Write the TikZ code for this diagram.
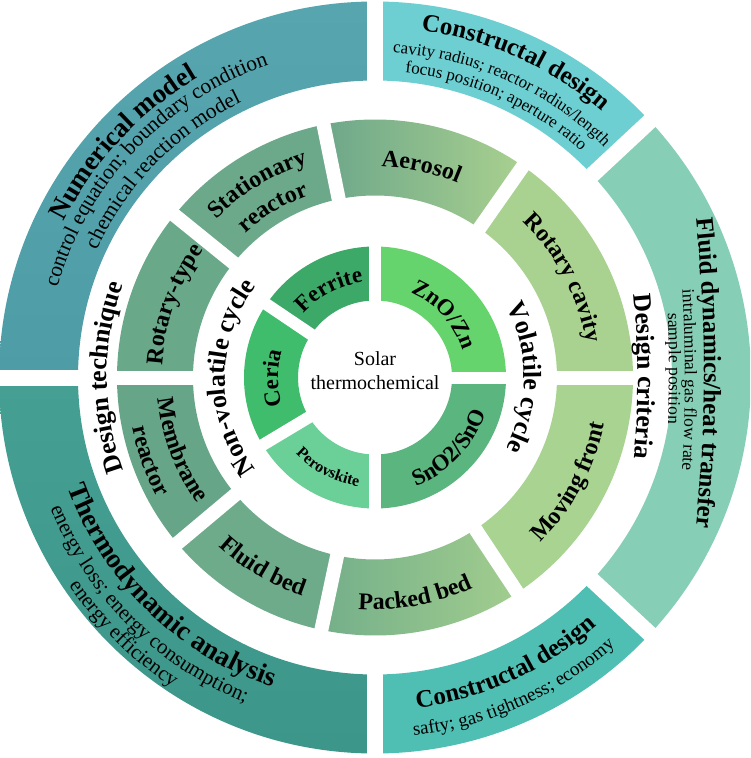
\documentclass[tikz,border=0pt]{standalone}
\usepackage{fontspec}
\setmainfont{Liberation Serif}
\usetikzlibrary{decorations.text}
\newcommand{\ringsec}[5]{\path[#5] (#3:#1pt) arc[start angle=#3,end angle=#4,radius=#1pt] -- (#4:#2pt) arc[start angle=#4,end angle=#3,radius=#2pt] -- cycle;}
\newcommand{\gapline}[4]{\draw[white,line width=#4pt] (#1:#2pt) -- (#1:#3pt);}
\newcommand{\cwtext}[4]{\pgfmathsetmacro\tsa{#2+80}\pgfmathsetmacro\tea{#2-80}%
 \path[decorate,decoration={text along path,text align=center,text={|#3|#4}}] (\tsa:#1pt) arc[start angle=\tsa,end angle=\tea,radius=#1pt];}
\newcommand{\ccwtext}[4]{\pgfmathsetmacro\tsa{#2-80}\pgfmathsetmacro\tea{#2+80}%
 \path[decorate,decoration={text along path,text align=center,text={|#3|#4}}] (\tsa:#1pt) arc[start angle=\tsa,end angle=\tea,radius=#1pt];}
% flatter arc with its own centre: cx, cy, R, font, text
\newcommand{\cwflat}[5]{%
 \path[shift={(#1,#2)},decorate,decoration={text along path,text align=center,text={|#4|#5}}] (20:#3pt) arc[start angle=20,end angle=-20,radius=#3pt];}
\newcommand{\fTa}{\fontsize{27}{32}\selectfont\bfseries}
\newcommand{\fTt}{\fontsize{27.5}{33}\selectfont\bfseries}
\newcommand{\fTb}{\fontsize{25}{30}\selectfont\bfseries}
\newcommand{\fW}{\fontsize{26}{31}\selectfont\bfseries}
\newcommand{\fM}{\fontsize{24}{29}\selectfont\bfseries}
\newcommand{\fI}{\fontsize{23}{28}\selectfont\bfseries}
\newcommand{\fP}{\fontsize{16}{19}\selectfont\bfseries}
\newcommand{\fSa}{\fontsize{21.5}{25}\selectfont}
\newcommand{\fSb}{\fontsize{17}{20}\selectfont}
\newcommand{\fSc}{\fontsize{19}{22}\selectfont}
\newcommand{\fSd}{\fontsize{21}{25}\selectfont}
\newcommand{\fSe}{\fontsize{17.5}{21}\selectfont}
\definecolor{cNum}{HTML}{57A6AF}
\definecolor{cNumB}{HTML}{4E9CA6}
\definecolor{cConT}{HTML}{6DCFD1}
\definecolor{cFlu}{HTML}{86CEB5}
\definecolor{cConB}{HTML}{4FBFB3}
\definecolor{cThe}{HTML}{45A093}
\definecolor{cTheB}{HTML}{3C978A}
\definecolor{cAerL}{HTML}{6DA78A}
\definecolor{cAerR}{HTML}{A9D08F}
\definecolor{cSta}{HTML}{6CA98A}
\definecolor{cRty}{HTML}{69A889}
\definecolor{cMem}{HTML}{67A588}
\definecolor{cFbd}{HTML}{6EAB8A}
\definecolor{cPbL}{HTML}{74AF8A}
\definecolor{cPbR}{HTML}{A2CD8E}
\definecolor{cMov}{HTML}{A8D391}
\definecolor{cRca}{HTML}{A9D18F}
\definecolor{cFer}{HTML}{3CA968}
\definecolor{cCer}{HTML}{3FBC6C}
\definecolor{cPer}{HTML}{6BCF98}
\definecolor{cZn}{HTML}{66D46C}
\definecolor{cSn}{HTML}{5AB57E}
\begin{document}
\begin{tikzpicture}[x=1pt,y=1pt]
\useasboundingbox (-375,-380.5) rectangle (375,377.5);
\clip (-375,-380.5) rectangle (375,377.5);
\fill[white] (-375,-380.5) rectangle (375,377.5);
% outer ring
\ringsec{297}{376}{90}{180}{top color=cNum,bottom color=cNumB}
\ringsec{297}{376}{43}{90}{fill=cConT}
\ringsec{297}{376}{-43}{43}{fill=cFlu}
\ringsec{297}{376}{-90}{-43}{fill=cConB}
\ringsec{297}{376}{180}{270}{top color=cThe,bottom color=cTheB}
\foreach \g in {90,180,270,43,-43} {\gapline{\g}{292}{400}{16}}
% middle ring
\ringsec{182}{258}{55}{101.5}{left color=cAerL,right color=cAerR}
\ringsec{182}{258}{101.5}{141}{fill=cSta}
\ringsec{182}{258}{141}{180}{fill=cRty}
\ringsec{182}{258}{180}{220}{fill=cMem}
\ringsec{182}{258}{220}{258}{fill=cFbd}
\ringsec{182}{258}{258}{303.5}{left color=cPbL,right color=cPbR}
\ringsec{182}{258}{303.5}{360}{fill=cMov}
\ringsec{182}{258}{0}{55}{fill=cRca}
\foreach \g in {55,101.5,141,180,220,258,303.5,0} {\gapline{\g}{176}{264}{14}}
% inner ring
\ringsec{77}{131}{90}{146}{fill=cFer}
\ringsec{77}{131}{146}{211}{fill=cCer}
\ringsec{77}{131}{211}{270}{fill=cPer}
\ringsec{77}{131}{0}{90}{fill=cZn}
\ringsec{77}{131}{270}{360}{fill=cSn}
\foreach \g in {0,90,146,211,270} {\gapline{\g}{72}{136}{12}}
% outer texts
\cwtext{348}{137}{\fTa}{Numerical model}
\cwtext{330}{136.5}{\fSa}{control equation; boundary condition}
\cwtext{306}{135.6}{\fSa}{chemical reaction model}
\cwtext{350}{66}{\fTb}{Constructal design}
\cwtext{325}{66}{\fSb}{cavity radius; reactor radius/length}
\cwtext{306}{66}{\fSb}{focus position; aperture ratio}
\cwflat{-1171}{4.5}{1500}{\fTb}{Fluid dynamics/heat transfer}
\cwflat{-1190}{-2.5}{1500}{\fSe}{intraluminal gas flow rate}
\cwflat{-1206}{9}{1500}{\fSe}{sample position}
\ccwtext{333}{-65.5}{\fTb}{Constructal design}
\ccwtext{360}{-66}{\fSc}{safty; gas tightness; economy}
\ccwtext{326}{225.7}{\fTt}{Thermodynamic analysis}
\ccwtext{350}{225.1}{\fSd}{energy loss; energy consumption;}
\ccwtext{370}{225.5}{\fSd}{energy efficiency}
% white band texts
\cwtext{268}{180}{\fW}{Design technique}
\cwflat{-537}{1}{800}{\fW}{Design criteria}
\cwtext{150}{180}{\fW}{Non-volatile cycle}
\cwtext{149}{0}{\fW}{Volatile cycle}
% middle ring texts
\cwtext{211}{77.6}{\fM}{Aerosol}
\cwtext{224}{121.3}{\fM}{Stationary}
\cwtext{194}{121}{\fM}{reactor}
\cwtext{213}{160}{\fM}{Rotary-type}
\ccwtext{218}{200.5}{\fM}{Membrane}
\ccwtext{248}{200.3}{\fM}{reactor}
\ccwtext{230}{239.4}{\fM}{Fluid bed}
\ccwtext{232}{280.4}{\fM}{Packed bed}
\ccwtext{234}{-28.2}{\fM}{Moving front}
\cwtext{214}{27.9}{\fM}{Rotary cavity}
% inner ring texts
\cwtext{96}{117.7}{\fI}{Ferrite}
\cwtext{97}{180.5}{\fI}{Ceria}
\ccwtext{110}{242.6}{\fP}{Perovskite}
\cwtext{92}{42.2}{\fI}{ZnO/Zn}
\ccwtext{116}{-43.5}{\fI}{SnO2/SnO}
\node[align=center,font=\fontsize{20}{24}\selectfont] (ctr) at (0,7) {Solar\\thermochemical};
\end{tikzpicture}
\end{document}
